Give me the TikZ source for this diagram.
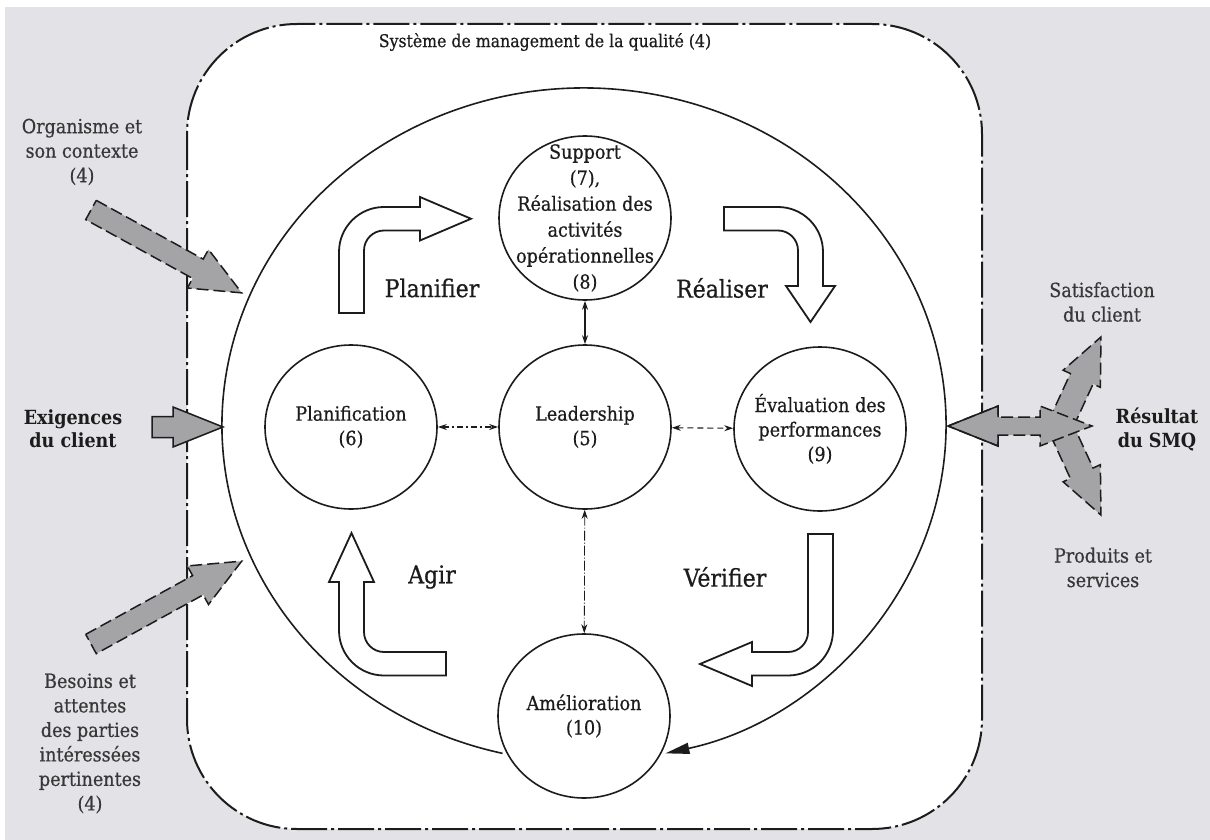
\documentclass[tikz,border=0pt]{standalone}
\usepackage{fontspec}
\setmainfont{DejaVu Serif Condensed}[UprightFeatures={FakeBold=0.6}]
\usetikzlibrary{arrows.meta,shapes.geometric}

\definecolor{pagegrey}{HTML}{E3E3E7}
\definecolor{fillgrey}{HTML}{A4A4A6}
\definecolor{ink}{HTML}{1C1C1C}
\definecolor{softink}{HTML}{383838}

% straight block arrow along +x: length, half shaft, half head, head length
\newcommand\flatarrow[4]{(0,-#2) -- ({#1-#4},-#2) -- ({#1-#4},-#3) -- (#1,0) -- ({#1-#4},#3) -- ({#1-#4},#2) -- (0,#2) -- cycle}

\begin{document}
\begin{tikzpicture}[x=1pt,y=-1pt,
  stage/.style={ellipse, draw=ink, line width=1.6pt, fill=white,
    minimum width=172pt, minimum height=164pt, inner sep=0pt},
  stagetext/.style={align=center, text=ink, font=\fontsize{19.5}{24.5}\selectfont},
  phase/.style={text=ink, font=\fontsize{24.5}{28}\selectfont},
  outer/.style={align=center, text=softink, font=\fontsize{19.5}{24.5}\selectfont},
  outerbold/.style={align=center, text=ink, font=\bfseries\fontsize{19.5}{23.5}\selectfont},
  link/.style={draw=ink, line width=1.1pt,
    {Stealth[length=9pt,width=6pt]}-{Stealth[length=9pt,width=6pt]}},
  cycleband/.style={draw=ink, line width=1.8pt, fill=white, line join=miter},
  feed/.style={draw=ink, line width=1.5pt, fill=fillgrey,
    dash pattern=on 12pt off 5pt, line join=miter},
  feedsolid/.style={draw=ink, line width=1.5pt, fill=fillgrey, line join=miter},
]
\useasboundingbox (0,0) rectangle (1210,840);

% page and system boundary
\fill[white] (0,0) rectangle (1210,840);
\fill[pagegrey] (5,7) rectangle (1210,840);
\draw[draw=ink, fill=white, line width=2pt, rounded corners=110pt,
  dash pattern=on 36pt off 4pt on 3pt off 4pt] (187,24) rectangle (982,829);
\node[outer, text=ink, font=\fontsize{17.5}{22}\selectfont] (qms) at (545,42)
  {Système de management de la qualité (4)};

% PDCA loop around the stages
\coordinate (loopc) at (584,425);
\draw[draw=ink, line width=1.6pt, -{Triangle[length=24pt,width=11pt]}]
  (loopc) ++(103:362 and 337) arc[start angle=103, end angle=437, x radius=362, y radius=337];

% bent phase arrows
\draw[cycleband] (339,313) -- (339,252) arc[start angle=180,end angle=270,radius=45]
  -- (420,207) -- (420,197) -- (471,218.75) -- (420,240.5) -- (420,230.5)
  -- (384,230.5) arc[start angle=270,end angle=180,radius=20] -- (364,313) -- cycle;
\draw[cycleband] (724,207) -- (778,207) arc[start angle=270,end angle=360,radius=45]
  -- (823,286) -- (835,286) -- (810.5,322) -- (786,286) -- (798,286)
  -- (798,250.5) arc[start angle=0,end angle=-90,radius=20] -- (724,230.5) -- cycle;
\draw[cycleband] (808,534) -- (833,534) -- (833,630.5) arc[start angle=0,end angle=90,radius=45]
  -- (752,675.5) -- (752,686) -- (700,664) -- (752,642) -- (752,652)
  -- (788,652) arc[start angle=90,end angle=0,radius=20] -- cycle;
\draw[cycleband] (446,652) -- (384,652) arc[start angle=90,end angle=180,radius=20]
  -- (364,582) -- (374,582) -- (351.5,533) -- (329,582) -- (339,582)
  -- (339,630.5) arc[start angle=180,end angle=90,radius=45] -- (446,675.5) -- cycle;

\node[phase] (planifier) at (432,288) {Planifier};
\node[phase] (realiser) at (722,288) {Réaliser};
\node[phase] (agir) at (432,577) {Agir};
\node[phase] (verifier) at (725,577) {Vérifier};

% stages
\node[stage] (sup) at (585,218) {};
\node[stage] (plan) at (351,427) {};
\node[stage] (lead) at (585,427) {};
\node[stage] (eval) at (820,429) {};
\node[stage] (amel) at (584,716) {};

\node[stagetext, font=\fontsize{19.5}{26}\selectfont] (sup-t) at (sup)
  {Support\\(7),\\Réalisation des\\activités\\opérationnelles\\(8)};
\node[stagetext] (plan-t) at (plan) {Planification\\(6)};
\node[stagetext] (lead-t) at (lead) {Leadership\\(5)};
\node[stagetext] (eval-t) at (eval) {Évaluation des\\performances\\(9)};
\node[stagetext] (amel-t) at (amel) {Amélioration\\(10)};

% interactions with leadership
\draw[link] (sup) -- (lead);
\draw[link, dash pattern=on 6pt off 3pt on 2pt off 3pt] (plan) -- (lead);
\draw[link, dash pattern=on 6pt off 4pt] (lead) -- (eval);
\draw[link, line width=0.8pt, dash pattern=on 10pt off 2pt on 1pt off 2pt] (lead) -- (amel);

% inputs
\node[outer] (context) at (82,152) {Organisme et\\son contexte\\(4)};
\node[outerbold] (reqs) at (73,428.5) {Exigences\\du client};
\node[outer] (parties) at (90,743.5) {Besoins et\\attentes\\des parties\\intéressées\\pertinentes\\(4)};

\begin{scope}[shift={(91,210)}, rotate=-28.8]
  \draw[feed] \flatarrow{172}{11}{22}{50};
\end{scope}
\begin{scope}[shift={(91,644)}, rotate=28.8]
  \draw[feed] \flatarrow{172}{11}{22}{50};
\end{scope}
\draw[feedsolid] (152,416.5) -- (173,416.5) -- (173,407) -- (223,427)
  -- (173,447) -- (173,437.5) -- (152,437.5) -- cycle;

% outputs
\node[outer] (satis) at (1102,302) {Satisfaction\\du client};
\node[outerbold] (result) at (1157,429.5) {Résultat\\du SMQ};
\node[outer] (prod) at (1103,567.5) {Produits et\\services};

\begin{scope}[shift={(1060,426)}, rotate=65.3]
  \draw[feed] \flatarrow{98}{12.5}{20.5}{46};
\end{scope}
\begin{scope}[shift={(1060,426)}, rotate=-65.3]
  \draw[feed] \flatarrow{98}{12.5}{20.5}{46};
\end{scope}
\draw[feed] (948,426) -- (998,406) -- (998,417) -- (1040,417) -- (1040,406)
  -- (1092,426) -- (1040,446) -- (1040,435) -- (998,435) -- (998,446) -- cycle;
\draw[draw=ink, line width=1.5pt, line join=miter] (998,417) -- (998,406) -- (948,426) -- (998,446) -- (998,435);

\end{tikzpicture}
\end{document}
